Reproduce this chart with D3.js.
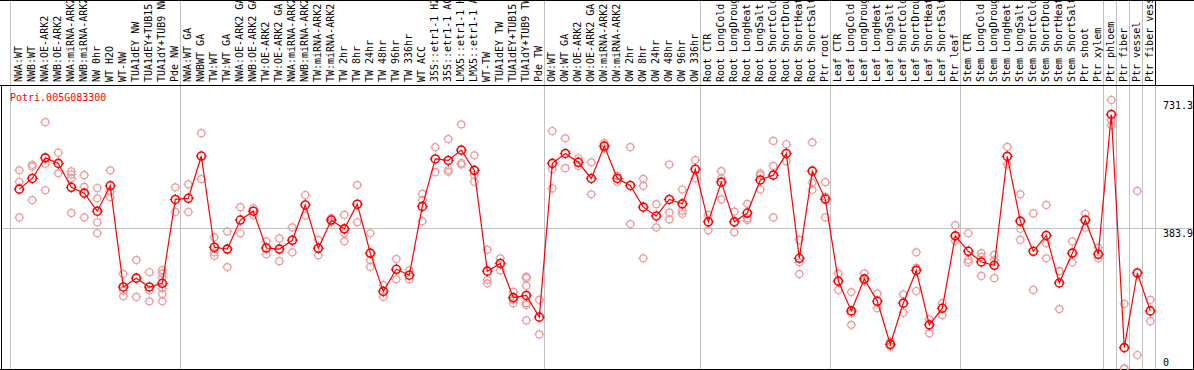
<!DOCTYPE html>
<html>
<head>
<meta charset="utf-8">
<script src="https://cdn.jsdelivr.net/npm/d3@7"></script>
<style>
  body { margin: 0; background: #fff; }
  svg { display: block; }
  text { font-family: "DejaVu Sans Mono", monospace; font-size: 10px; }
</style>
</head>
<body>
<svg></svg>
<script>
// sample labels, one per column
const labels = [
  "NWA:WT", "NWB:WT", "NWA:OE-ARK2", "NWB:OE-ARK2", "NWA:miRNA-ARK2", "NWB:miRNA-ARK2",
  "NW 0hr", "WT H2O", "WT-NW", "TUA1dEY NW", "TUA1dEY+TUB15", "TUA1dY+TUB9 NW", "Pde NW",
  "NWA:WT GA", "NWBWT GA", "TW:WT", "TW:WT GA", "NWA:OE-ARK2 GA", "NWB:OE-ARK2 GA",
  "TW:OE-ARK2", "TW:OE-ARK2 GA", "NWA:miRNA-ARK2", "NWB:miRNA-ARK2", "TW:miRNA-ARK2",
  "TW:miRNA-ARK2", "TW 2hr", "TW 8hr", "TW 24hr", "TW 48hr", "TW 96hr", "TW 336hr",
  "WT ACC", "35S::etr1-1 H2O", "35S::etr1-1 ACC", "LMX5::etr1-1 H2O", "LMX5::etr1-1 ACC",
  "WT-TW", "TUA1dEY TW", "TUA1dEY+TUB15", "TUA1dY+TUB9 TW", "Pde TW",
  "OW:WT", "OW:WT GA", "OW:OE-ARK2", "OW:OE-ARK2 GA", "OW:miRNA-ARK2", "OW:miRNA-ARK2",
  "OW 2hr", "OW 8hr", "OW 24hr", "OW 48hr", "OW 96hr", "OW 336hr",
  "Root CTR", "Root LongCold", "Root LongDrought", "Root LongHeat", "Root LongSalt",
  "Root ShortCold", "Root ShortDrought", "Root ShortHeat", "Root ShortSalt", "Ptr root",
  "Leaf CTR", "Leaf LongCold", "Leaf LongDrought", "Leaf LongHeat", "Leaf LongSalt",
  "Leaf ShortCold", "Leaf ShortDrought", "Leaf ShortHeat", "Leaf ShortSalt", "Ptr leaf",
  "Stem CTR", "Stem LongCold", "Stem LongDrought", "Stem LongHeat", "Stem LongSalt",
  "Stem ShortCold", "Stem ShortDrought", "Stem ShortHeat", "Stem ShortSalt", "Ptr shoot",
  "Ptr xylem", "Ptr phloem", "Ptr fiber", "Ptr vessel", "Ptr fiber vessel"
];

// number of columns in each experiment block
const groupSizes = [13, 28, 12, 10, 10, 11, 1, 1, 1, 1];

const geneName = "Potri.005G083300";

// mean expression per column
const means = [
  489, 518, 574, 559, 494, 478, 429, 498, 223, 247, 223, 233, 461,
  464, 579, 331, 326, 405, 429, 329, 326, 350, 446, 328, 405, 381, 448, 315, 211, 271, 255,
  442, 571, 567, 595, 540, 266, 287, 194, 200, 141,
  559, 586, 562, 518, 606, 518, 499, 440, 416, 461, 449, 543,
  400, 508, 400, 424, 514, 527, 586, 301, 538, 462,
  239, 158, 245, 184, 67, 179, 268, 120, 165, 362,
  320, 291, 282, 578, 402, 320, 363, 234, 315, 405, 312,
  692, 58, 261, 158
];

// individual replicates per column
const replicates = [
  [540, 509, 412], [555, 550, 459], [671, 558, 486], [588, 532], [537, 529, 518, 424],
  [527, 495, 412], [492, 464, 399, 369], [540, 482, 467], [258, 213, 198], [296, 196],
  [263, 214, 184], [269, 260, 248, 219, 204, 184], [494, 427],
  [502, 427], [641, 516], [358, 317, 308], [374, 277], [440, 369], [437, 419], [347, 312],
  [355, 293], [385, 317], [473, 417], [351, 309], [410, 400], [419, 369, 347], [500, 399],
  [369, 296, 278], [228, 196], [299, 244], [268, 244], [476, 459, 402], [603, 535],
  [625, 541, 536], [665, 560, 556], [581, 527, 509], [324, 242, 233], [301, 268],
  [210, 188, 179], [251, 247, 226, 179, 174, 132], [188, 94],
  [647, 543, 491], [627, 546], [573, 552], [562, 475], [614, 600], [525, 509], [603, 394],
  [517, 498, 301], [448, 385], [556, 425, 407], [488, 430, 422], [568, 518],
  [419, 377], [538, 518, 461], [428, 372], [449, 410, 405], [532, 527, 488],
  [620, 552, 412], [611, 565], [351, 290, 258], [616, 506, 487], [508, 468, 412],
  [260, 215], [209, 151, 120], [260, 239], [205, 165], [74, 61], [203, 153],
  [317, 275, 212], [135, 97], [179, 147], [391, 348],
  [369, 297, 290], [315, 305, 253], [310, 296, 247], [604, 556], [475, 381, 351],
  [423, 215], [446, 342, 301], [266, 266, 163], [347, 290], [422, 384], [330, 301],
  [731.3, 677, 663], [177, 2, 0], [484, 38], [188, 130]
];

// value axis labels
const yTicks = [731.3, 383.9, 0];
const midLine = 383.9;

let width = 1194,
  height = 370;

let plotTop = 85,
  plotBottom = 369,
  plotLeft = 1,
  plotRight = 1193;

let svg = d3.select("svg").attr("width", width).attr("height", height);

let x = d3
  .scalePoint()
  .domain(d3.range(labels.length))
  .range([19.3, 19.3 + 13 * (labels.length - 1)]);

let y = d3.scaleLinear().domain([0, 731.3]).range([plotBottom, 100]);

const crisp = (v) => Math.round(v) + 0.5;

// group separators (start line plus one after each block)
let sepIdx = [];
let acc = 0;
groupSizes.forEach((n) => {
  acc += n;
  sepIdx.push(acc - 1);
});
let sepX = [crisp(x(0) - 9)].concat(sepIdx.map((i) => crisp(x(i) + 5)));

svg
  .append("g")
  .selectAll("line")
  .data(sepX)
  .enter()
  .append("line")
  .attr("x1", (d) => d)
  .attr("x2", (d) => d)
  .attr("y1", 0)
  .attr("y2", plotBottom)
  .attr("stroke", "#c0c0c0")
  .attr("stroke-width", 1);

// horizontal reference line
svg
  .append("line")
  .attr("x1", plotLeft)
  .attr("x2", plotRight)
  .attr("y1", crisp(y(midLine)))
  .attr("y2", crisp(y(midLine)))
  .attr("stroke", "#c0c0c0");

// header labels
svg
  .append("g")
  .selectAll("text")
  .data(labels)
  .enter()
  .append("text")
  .attr("transform", (d, i) => `translate(${x(i) + 3},82) rotate(-90)`)
  .attr("fill", "#000")
  .text((d) => d);

// frame
let frame = svg.append("g").attr("stroke", "#000").attr("stroke-width", 1);
frame.append("line").attr("x1", 0).attr("x2", width).attr("y1", 0.5).attr("y2", 0.5);
frame.append("line").attr("x1", 0).attr("x2", width).attr("y1", plotTop + 0.5).attr("y2", plotTop + 0.5);
frame.append("line").attr("x1", 0).attr("x2", width).attr("y1", plotBottom + 0.5).attr("y2", plotBottom + 0.5);
frame.append("line").attr("x1", plotLeft + 0.5).attr("x2", plotLeft + 0.5).attr("y1", plotTop).attr("y2", plotBottom);
frame.append("line").attr("x1", plotRight + 0.5).attr("x2", plotRight + 0.5).attr("y1", plotTop).attr("y2", plotBottom);
frame.append("line").attr("x1", crisp(x(labels.length - 1) + 5)).attr("x2", crisp(x(labels.length - 1) + 5)).attr("y1", 0).attr("y2", plotTop);

// value labels on the right
svg
  .append("g")
  .selectAll("text")
  .data(yTicks)
  .enter()
  .append("text")
  .attr("x", 1163)
  .attr("y", (d) => Math.min(y(d) + 9, 366))
  .attr("fill", "#000")
  .text((d) => d);

// gene name
svg
  .append("text")
  .attr("x", 10)
  .attr("y", 101)
  .attr("fill", "#ff0000")
  .text(geneName);

// marker: circle with four small ticks
function marker(g, r, color, sw) {
  g.append("circle")
    .attr("r", r)
    .attr("fill", "none")
    .attr("stroke", color)
    .attr("stroke-width", sw);
  g.append("path")
    .attr(
      "d",
      `M0,${-r - 1.5}V${-r}M0,${r}V${r + 1.5}M${-r - 1.5},0H${-r}M${r},0H${r + 1.5}`
    )
    .attr("stroke", color)
    .attr("stroke-width", 1);
}

// replicates
let repPts = [];
replicates.forEach((reps, i) => {
  reps.forEach((v) => repPts.push({ i: i, v: v }));
});

svg
  .append("g")
  .selectAll("g")
  .data(repPts)
  .enter()
  .append("g")
  .attr("transform", (d) => `translate(${x(d.i)},${y(d.v)})`)
  .each(function () {
    marker(d3.select(this), 3.5, "#ee9a9a", 1.2);
  });

// mean markers
svg
  .append("g")
  .selectAll("g")
  .data(means)
  .enter()
  .append("g")
  .attr("transform", (d, i) => `translate(${x(i)},${y(d)})`)
  .each(function () {
    marker(d3.select(this), 4, "#ff0000", 1.6);
  });

// mean line
let line = d3
  .line()
  .x((d, i) => x(i))
  .y((d) => y(d));

svg
  .append("path")
  .datum(means)
  .attr("fill", "none")
  .attr("stroke", "#ff0000")
  .attr("stroke-width", 1.2)
  .attr("d", line);
</script>
</body>
</html>
